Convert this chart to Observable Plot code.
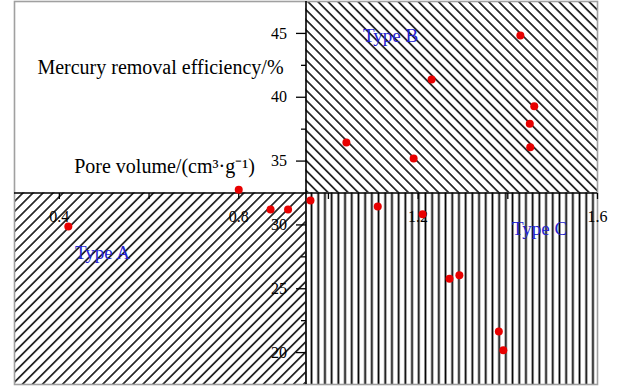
<!DOCTYPE html>
<html><head><meta charset="utf-8">
<script src="https://cdn.jsdelivr.net/npm/d3@7"></script>
<script src="https://cdn.jsdelivr.net/npm/@observablehq/plot@0.6"></script>
<style>
body{margin:0;background:#fff;}
#chart svg{display:block;}
</style>
</head><body><div id="chart"></div>
<script>
// ---- data ----
const poreVolume = [1.040, 1.190, 1.230, 1.428, 1.459, 1.449, 1.450, 0.800, 0.871, 0.910, 0.420, 0.960, 1.110, 1.210, 1.270, 1.292, 1.380, 1.390];
const efficiency = [36.46, 35.20, 41.39, 44.84, 39.30, 37.92, 36.09, 32.75, 31.21, 31.21, 29.88, 31.91, 31.44, 30.84, 25.78, 26.06, 21.65, 20.19];

const xDomain = [0.3, 1.6];
const yDomain = [17.5, 47.5];
const xCross = 32.5;   // efficiency where the x axis crosses
const yCross = 0.95;   // pore volume where the y axis crosses

const xTicks = [0.4, 0.6, 0.8, 1.0, 1.2, 1.4, 1.6];
const xTickLabels = ["0.4", "0.8", "1.2", "1.6"];
const xLabelValues = [0.4, 0.8, 1.2, 1.6];
const yMajorTicks = [20, 25, 30, 35, 40, 45];
const yMinorTicks = [22.5, 27.5, 37.5, 42.5];
const yTickLabels = ["20", "25", "30", "35", "40", "45"];

const regionNames = ["", "Type A", "Type B", "Type C"];
const regionX1 = [xDomain[0], xDomain[0], yCross, yCross];
const regionX2 = [yCross, yCross, xDomain[1], xDomain[1]];
const regionY1 = [xCross, yDomain[0], xCross, yDomain[0]];
const regionY2 = [yDomain[1], xCross, yDomain[1], xCross];
const regionFill = ["white", "url(#hatchA)", "url(#hatchB)", "url(#hatchC)"];

const yAxisTitle = "Mercury removal efficiency/%";
const xAxisTitle = "Pore volume/(cm³·g⁻¹)";

// ---- build tables ----
const points = poreVolume.map((x, i) => ({x, y: efficiency[i]}));
const regions = regionNames.map((n, i) => ({name: n, x1: regionX1[i], x2: regionX2[i], y1: regionY1[i], y2: regionY2[i], fill: regionFill[i]}));
const xLabels = xLabelValues.map((v, i) => ({v, t: xTickLabels[i]}));
const yLabels = yMajorTicks.map((v, i) => ({v, t: yTickLabels[i]}));

const tickDown = len => ({draw(c){c.moveTo(0,0); c.lineTo(0,len);}});
const tickLeft = len => ({draw(c){c.moveTo(0,0); c.lineTo(-len,0);}});

const serif = "'Liberation Serif', 'Times New Roman', serif";
const blue = "#2323cf";
const centered = {frameAnchor: "top-left", textAnchor: "middle", lineAnchor: "middle"};

const plot = Plot.plot({
  width: 622,
  height: 388,
  marginLeft: 14,
  marginRight: 25,
  marginTop: 1,
  marginBottom: 4,
  style: {fontFamily: serif, background: "white"},
  x: {domain: xDomain, axis: null},
  y: {domain: yDomain, axis: null},
  marks: [
    Plot.rect(regions, {x1: "x1", x2: "x2", y1: "y1", y2: "y2", fill: d => d.fill}),
    Plot.frame({stroke: "#a0a0a0", strokeWidth: 1.6}),
    // axis lines
    Plot.ruleY([xCross], {stroke: "black", strokeWidth: 1.6}),
    Plot.ruleX([yCross], {stroke: "black", strokeWidth: 1.6}),
    // x ticks
    Plot.dot(xTicks, {x: d => d, y: () => xCross, symbol: tickDown(6), stroke: "black", strokeWidth: 1.3, fill: "none"}),
    Plot.text(xLabels, {x: "v", y: () => xCross, text: "t", dy: 24, fontSize: 16, fill: "black"}),
    // y ticks
    Plot.dot(yMajorTicks, {x: () => yCross, y: d => d, symbol: tickLeft(10), stroke: "black", strokeWidth: 1.3, fill: "none"}),
    Plot.dot(yMinorTicks, {x: () => yCross, y: d => d, symbol: tickLeft(5), stroke: "black", strokeWidth: 1.3, fill: "none"}),
    Plot.text(yLabels, {x: () => yCross, y: "v", text: "t", dx: -19, textAnchor: "end", fontSize: 16, fill: "black"}),
    // axis titles
    Plot.text([yAxisTitle], {...centered, dx: 146, dy: 66, fontSize: 20, fill: "black"}),
    Plot.text([xAxisTitle], {...centered, dx: 150, dy: 165, fontSize: 20, fill: "black"}),
    // region names
    Plot.text([regionNames[1]], {...centered, dx: 88, dy: 251, fontSize: 19, fill: blue}),
    Plot.text([regionNames[2]], {...centered, dx: 376, dy: 34, fontSize: 19, fill: blue}),
    Plot.text([regionNames[3]], {...centered, dx: 525, dy: 227, fontSize: 19, fill: blue}),
    // data points
    Plot.dot(points, {x: "x", y: "y", r: 4, fill: "#e80000", stroke: "none"})
  ]
});

// hatch patterns
const ns = "http://www.w3.org/2000/svg";
const defs = document.createElementNS(ns, "defs");
function addPattern(id, w, h, angle, sw) {
  const p = document.createElementNS(ns, "pattern");
  p.setAttribute("id", id);
  p.setAttribute("patternUnits", "userSpaceOnUse");
  p.setAttribute("width", w);
  p.setAttribute("height", h);
  if (angle) p.setAttribute("patternTransform", `rotate(${angle})`);
  const bg = document.createElementNS(ns, "rect");
  bg.setAttribute("width", w); bg.setAttribute("height", h); bg.setAttribute("fill", "white");
  p.appendChild(bg);
  const l = document.createElementNS(ns, "line");
  l.setAttribute("x1", w / 2); l.setAttribute("x2", w / 2);
  l.setAttribute("y1", 0); l.setAttribute("y2", h);
  l.setAttribute("stroke", "black"); l.setAttribute("stroke-width", sw);
  p.appendChild(l);
  defs.appendChild(p);
}
addPattern("hatchA", 7.1, 10, 45, 1.5);
addPattern("hatchB", 7.1, 10, -45, 1.5);
addPattern("hatchC", 6.7, 10, 0, 1.8);
plot.insertBefore(defs, plot.firstChild);

document.getElementById("chart").appendChild(plot);
</script>
</body></html>
